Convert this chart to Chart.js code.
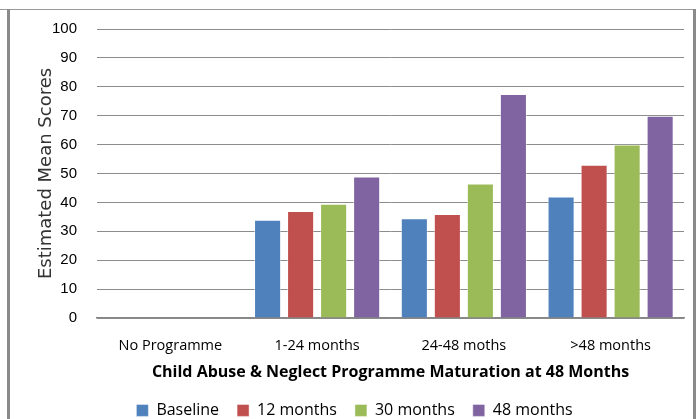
<!DOCTYPE html>
<html>
<head>
<meta charset="utf-8">
<script src="https://cdn.jsdelivr.net/npm/chart.js@4"></script>
<style>
  html, body { margin:0; padding:0; background:#fff; }
  #wrap { position:relative; width:699px; height:419px; overflow:hidden; }
  canvas { position:absolute; left:0; top:0; }
  .ln { position:absolute; background:#8a8a8a; }
</style>
</head>
<body>
<div id="wrap">
  <canvas id="c" width="699" height="419"></canvas>
  <div class="ln" style="left:0;top:9px;width:696px;height:1px;background:#9a9a9a"></div>
  <div class="ln" style="left:7px;top:9px;width:3px;height:410px;"></div>
  <div class="ln" style="left:693px;top:9px;width:3px;height:410px;"></div>
</div>
<script>
const categories = ["No Programme", "1-24 months", "24-48 moths", ">48 months"];
const seriesNames = ["Baseline", "12 months", "30 months", "48 months"];
const baseline = [null, 34, 34.5, 42];
const months12 = [null, 37, 36, 53];
const months30 = [null, 39.5, 46.5, 60];
const months48 = [null, 49, 77.5, 70];
const yTicks = [0, 10, 20, 30, 40, 50, 60, 70, 80, 90, 100];
const colors = ["#4F81BD", "#C0504D", "#9BBB59", "#8064A2"];
const seriesValues = [baseline, months12, months30, months48];

const PLOT_LEFT = 97, PLOT_RIGHT = 684, PLOT_TOP = 26, PLOT_BOTTOM = 318, H = 419, W = 699;
const PAD_L = 25;
const X_TITLE_CENTER = 372, X_TITLE_SIZE = 16;
const LEGEND_CENTER = 412, LEGEND_SIZE = 16, LEGEND_PAD = 18;

const placePlugin = {
  id: 'place',
  afterLayout(chart) {
    const x = chart.scales.x;
    x.bottom = X_TITLE_CENTER + X_TITLE_SIZE * 1.2 / 2;
    const lg = chart.legend;
    if (lg) {
      const h = lg.height;
      lg.top = LEGEND_CENTER - LEGEND_PAD - LEGEND_SIZE * 1.2 / 2;
      lg.bottom = lg.top + h;
    }
  }
};

new Chart(document.getElementById('c'), {
  type: 'bar',
  data: {
    labels: categories,
    datasets: seriesValues.map((v, i) => ({
      label: seriesNames[i],
      data: v,
      backgroundColor: colors[i],
      borderColor: 'rgba(255,255,255,0.45)',
      borderWidth: 1,
      barPercentage: 0.82,
      categoryPercentage: 0.9
    }))
  },
  plugins: [placePlugin],
  options: {
    responsive: false,
    animation: false,
    devicePixelRatio: 1,
    layout: { padding: { left: PAD_L, right: W - PLOT_RIGHT, top: PLOT_TOP, bottom: 0 } },
    plugins: {
      legend: {
        position: 'bottom',
        labels: {
          boxWidth: 12, boxHeight: 12, padding: LEGEND_PAD,
          color: '#000',
          font: { family: 'Open Sans', size: LEGEND_SIZE }
        }
      },
      tooltip: { enabled: false }
    },
    scales: {
      x: {
        grid: { display: false },
        border: { display: true, color: '#868686', width: 1.5 },
        ticks: { color: '#000', padding: 11, font: { family: 'Open Sans', size: 14.5 } },
        title: {
          display: true,
          text: 'Child Abuse & Neglect Programme Maturation at 48 Months',
          color: '#000',
          font: { family: 'Open Sans', size: X_TITLE_SIZE, weight: 'bold' },
          padding: { top: 0, bottom: 0 }
        },
        afterFit: (s) => {
          const lh = s.chart.legend ? s.chart.legend.height : 0;
          s.height = H - PLOT_BOTTOM - lh;
        }
      },
      y: {
        min: 0, max: 100,
        afterBuildTicks: (s) => { s.ticks = yTicks.map(v => ({ value: v })); },
        grid: { color: '#8c8c8c', lineWidth: 1, drawTicks: false },
        border: { display: false },
        ticks: { color: '#000', padding: 20, font: { family: 'Liberation Sans', size: 15 } },
        title: {
          display: true,
          text: 'Estimated Mean Scores',
          color: '#333',
          font: { family: 'DejaVu Sans', size: 18 },
          padding: { top: 11, bottom: 0 }
        },
        afterFit: (s) => { s.width = PLOT_LEFT - PAD_L; }
      }
    }
  }
});
</script>
</body>
</html>
